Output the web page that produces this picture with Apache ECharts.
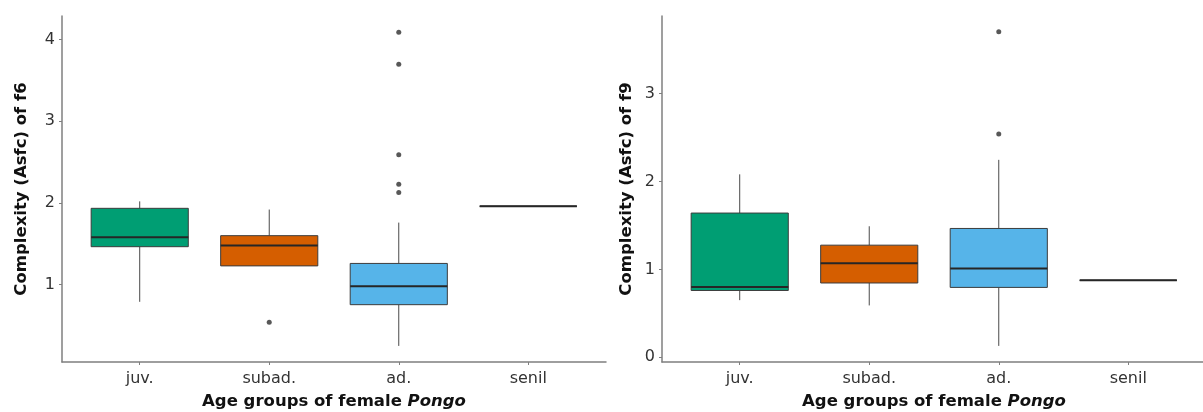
<!DOCTYPE html>
<html>
<head>
<meta charset="utf-8">
<script src="https://cdn.jsdelivr.net/npm/echarts@6/dist/echarts.min.js"></script>
<style>
html,body{margin:0;padding:0;background:#fff;}
#chart{width:1203px;height:412px;}
</style>
</head>
<body>
<div id="chart"></div>
<script>
// ---- data ----
var categories = ['juv.', 'subad.', 'ad.', 'senil'];
var boxColors = ['#009E73', '#D55E00', '#56B4E9', '#ffffff'];

// f6 panel
var f6Lower  = [0.79, 1.23, 0.25, 1.96];
var f6Q1     = [1.465, 1.23, 0.755, 1.96];
var f6Median = [1.58, 1.48, 0.98, 1.96];
var f6Q3     = [1.935, 1.60, 1.26, 1.96];
var f6Upper  = [2.02, 1.92, 1.76, 1.96];
var f6Outliers = [[2, 0.54], [3, 4.09], [3, 3.70], [3, 2.59], [3, 2.23], [3, 2.13]];
var f6Ticks = [1, 2, 3, 4];

// f9 panel
var f9Lower  = [0.65, 0.59, 0.13, 0.875];
var f9Q1     = [0.76, 0.845, 0.795, 0.875];
var f9Median = [0.80, 1.07, 1.01, 0.875];
var f9Q3     = [1.64, 1.275, 1.465, 0.875];
var f9Upper  = [2.08, 1.49, 2.245, 0.875];
var f9Outliers = [[3, 3.70], [3, 2.54]];
var f9Ticks = [0, 1, 2, 3];

var yTitles = ['Complexity (Asfc) of f6', 'Complexity (Asfc) of f9'];
var xTitle = 'Age groups of female {i|Pongo}';

// ---- build ----
function boxData(lo, q1, med, q3, hi) {
  return categories.map(function (c, i) {
    return [i + 1, lo[i], q1[i], med[i], q3[i], hi[i]];
  });
}
function outData(arr) {
  return arr.map(function (p) { return [p[0], p[1]]; });
}

var font = 'DejaVu Sans';
var axisGrey = '#7f7f7f';

function renderBox(params, api) {
  var x = api.value(0);
  var idx = params.dataIndex;
  var lo = api.coord([x, api.value(1)]);
  var q1 = api.coord([x, api.value(2)]);
  var med = api.coord([x, api.value(3)]);
  var q3 = api.coord([x, api.value(4)]);
  var hi = api.coord([x, api.value(5)]);
  var left = api.coord([x - 0.375, 0])[0];
  var right = api.coord([x + 0.375, 0])[0];
  var cx = lo[0];
  var children = [];
  if (hi[1] < q3[1]) {
    children.push({type: 'line', shape: {x1: cx, y1: hi[1], x2: cx, y2: q3[1]},
      style: {stroke: '#4a4a4a', lineWidth: 1}});
  }
  if (lo[1] > q1[1]) {
    children.push({type: 'line', shape: {x1: cx, y1: q1[1], x2: cx, y2: lo[1]},
      style: {stroke: '#4a4a4a', lineWidth: 1}});
  }
  children.push({type: 'rect', shape: {x: left, y: q3[1], width: right - left, height: q1[1] - q3[1]},
    style: {fill: boxColors[idx], stroke: '#3c3c3c', lineWidth: 1}});
  children.push({type: 'line', shape: {x1: left, y1: med[1], x2: right, y2: med[1]},
    style: {stroke: '#262626', lineWidth: 2}});
  return {type: 'group', children: children};
}

function xAxisDef(gi) {
  return {
    type: 'value', gridIndex: gi, min: 0.4, max: 4.6,
    axisLine: {show: true, onZero: false, lineStyle: {color: axisGrey, width: 1.5}},
    axisTick: {show: true, customValues: [1, 2, 3, 4], length: 3, lineStyle: {color: axisGrey}},
    axisLabel: {customValues: [1, 2, 3, 4], margin: 9, color: '#333', fontSize: 16, fontFamily: font,
      formatter: function (v) { return categories[Math.round(v) - 1]; }},
    splitLine: {show: false},
    name: xTitle, nameLocation: 'middle', nameGap: 31,
    nameTextStyle: {color: '#111', fontSize: 16.5, fontWeight: 'bold', fontFamily: font,
      rich: {i: {fontStyle: 'italic', fontWeight: 'bold', fontSize: 16.5, fontFamily: font, color: '#111'}}}
  };
}
function yAxisDef(gi, min, max, ticks, gap) {
  return {
    type: 'value', gridIndex: gi, min: min, max: max,
    axisLine: {show: true, onZero: false, lineStyle: {color: axisGrey, width: 1.5}},
    axisTick: {show: true, customValues: ticks, length: 3, lineStyle: {color: axisGrey}},
    axisLabel: {customValues: ticks, margin: 7, color: '#333', fontSize: 16, fontFamily: font},
    splitLine: {show: false},
    name: yTitles[gi], nameLocation: 'middle', nameGap: gap,
    nameTextStyle: {color: '#111', fontSize: 16.5, fontWeight: 'bold', fontFamily: font}
  };
}

var option = {
  backgroundColor: '#fff',
  animation: false,
  grid: [
    {left: 62, top: 16, width: 544, bottom: 50, containLabel: false, outerBoundsMode: 'none'},
    {left: 662, top: 16, width: 544, bottom: 50, containLabel: false, outerBoundsMode: 'none'}
  ],
  xAxis: [xAxisDef(0), xAxisDef(1)],
  yAxis: [yAxisDef(0, 0.053, 4.29, f6Ticks, 32), yAxisDef(1, -0.053, 3.88, f9Ticks, 27)],
  series: [
    {type: 'custom', xAxisIndex: 0, yAxisIndex: 0, renderItem: renderBox,
      encode: {x: 0, y: [1, 2, 3, 4, 5]}, data: boxData(f6Lower, f6Q1, f6Median, f6Q3, f6Upper)},
    {type: 'scatter', xAxisIndex: 0, yAxisIndex: 0, symbolSize: 5,
      itemStyle: {color: '#2e2e2e'}, data: outData(f6Outliers)},
    {type: 'custom', xAxisIndex: 1, yAxisIndex: 1, renderItem: renderBox,
      encode: {x: 0, y: [1, 2, 3, 4, 5]}, data: boxData(f9Lower, f9Q1, f9Median, f9Q3, f9Upper)},
    {type: 'scatter', xAxisIndex: 1, yAxisIndex: 1, symbolSize: 5,
      itemStyle: {color: '#2e2e2e'}, data: outData(f9Outliers)}
  ]
};

var chart = echarts.init(document.getElementById('chart'), null, {renderer: 'canvas'});
chart.setOption(option);
</script>
</body>
</html>
